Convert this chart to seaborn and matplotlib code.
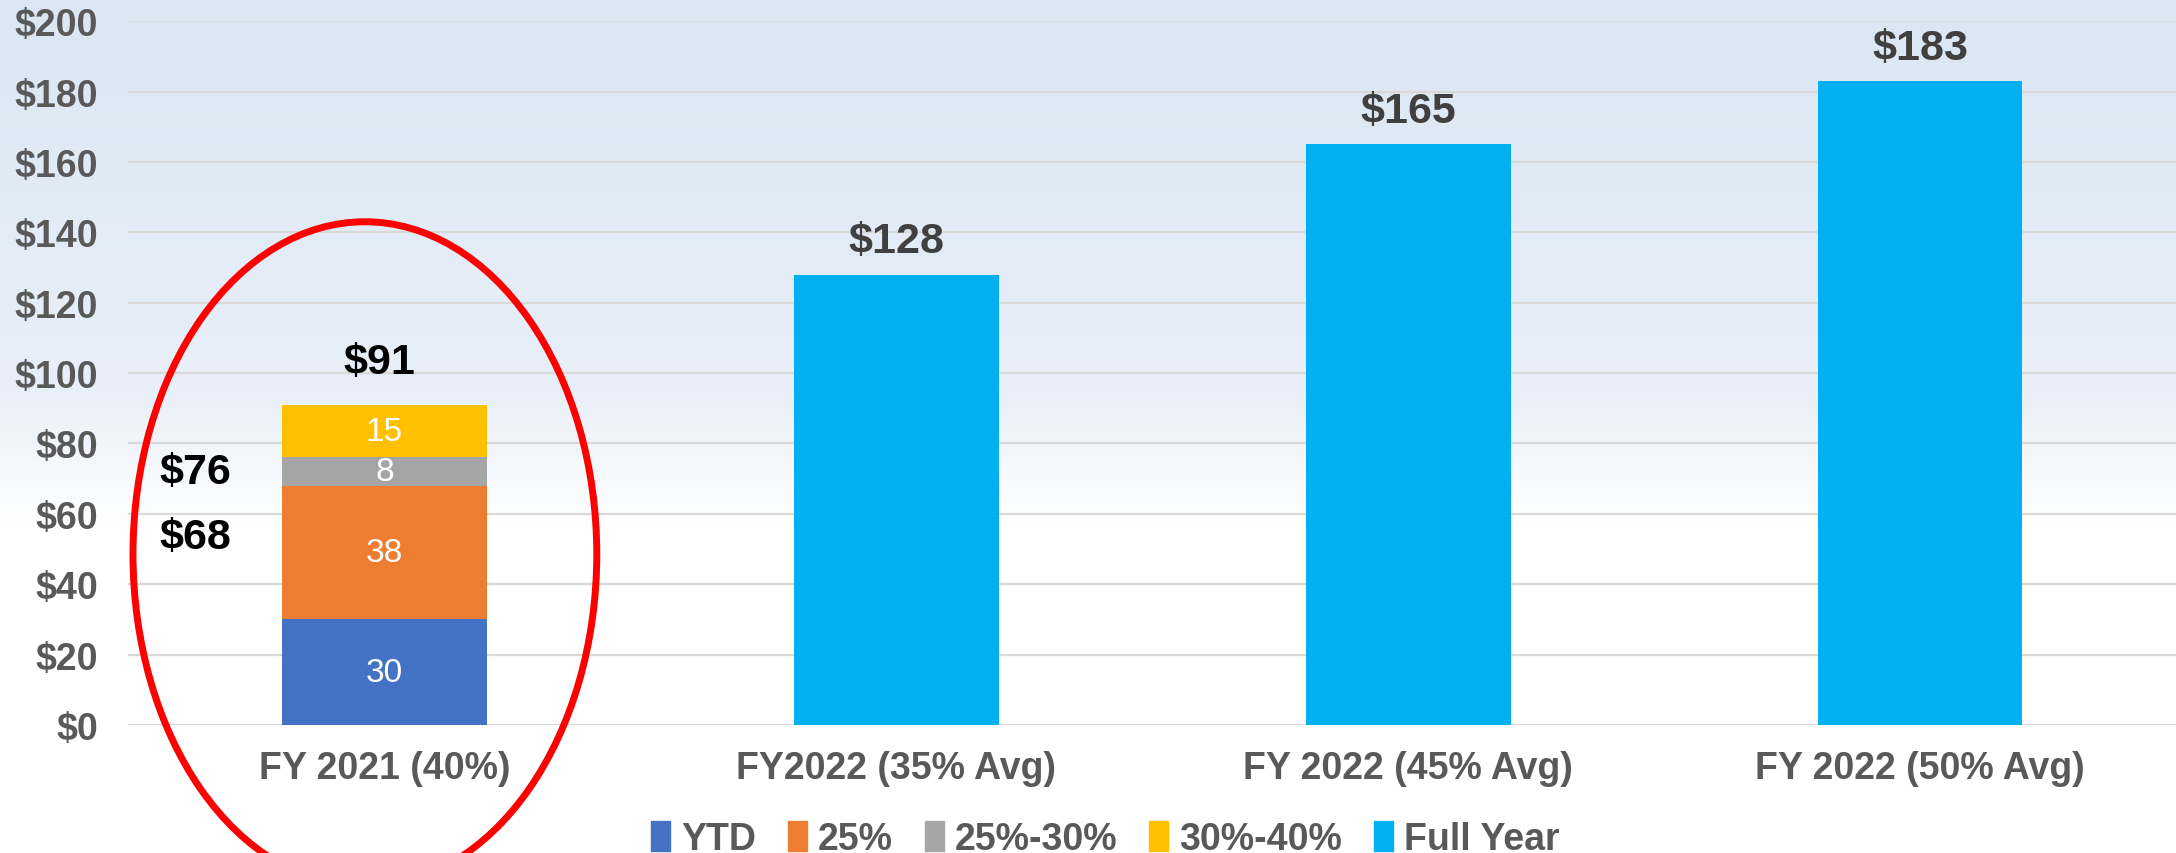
import numpy as np
import pandas as pd
import matplotlib

matplotlib.use('Agg')
import matplotlib.pyplot as plt
import seaborn as sns
from matplotlib.patches import Ellipse, Patch
from matplotlib.colors import LinearSegmentedColormap

# data
categories = ['FY 2021 (40%)', 'FY2022 (35% Avg)', 'FY 2022 (45% Avg)', 'FY 2022 (50% Avg)']
segments = ['YTD', '25%', '25%-30%', '30%-40%']
segment_values = [30, 38, 8, 15]          # stacked pieces of FY 2021
full_year_cats = categories[1:]
full_year_values = [128, 165, 183]
side_labels = [68, 76]                     # running totals shown left of the stack
colors = ['#4472C4', '#ED7D31', '#A5A5A5', '#FFC000']
full_year_color = '#00B0F0'

sns.set_style('white')
plt.rcParams['font.family'] = ['Liberation Sans', 'DejaVu Sans']

fig = plt.figure(figsize=(21.76, 8.54), dpi=100)

# soft blue background gradient
bg = fig.add_axes([0, 0, 1, 1], zorder=-1)
cmap = LinearSegmentedColormap.from_list(
    'bg', [(0.0, '#dae7f3'), (0.45, '#e8eff9'), (0.62, '#ffffff'), (1.0, '#ffffff')])
bg.imshow(np.linspace(0, 1, 256).reshape(-1, 1), aspect='auto', cmap=cmap,
          extent=[0, 1, 0, 1], origin='upper')
bg.axis('off')

ax = fig.add_axes([0.059, 0.150, 0.941, 0.824])
ax.set_facecolor('none')

# stacked bar: draw cumulative totals from top down so each layer covers the one before
cum = np.cumsum(segment_values)
for i in range(len(segments) - 1, -1, -1):
    df = pd.DataFrame({'cat': [categories[0]], 'val': [cum[i]]})
    sns.barplot(data=df, x='cat', y='val', order=categories, color=colors[i],
                width=0.4, saturation=1, linewidth=0, ax=ax, zorder=3)

df_full = pd.DataFrame({'cat': full_year_cats, 'val': full_year_values})
sns.barplot(data=df_full, x='cat', y='val', order=categories, color=full_year_color,
            width=0.4, saturation=1, linewidth=0, ax=ax, zorder=3)

# segment labels
bottoms = np.concatenate([[0], cum[:-1]])
for b, v in zip(bottoms, segment_values):
    ax.text(0, b + v / 2, f'{v}', ha='center', va='center', color='white',
            fontsize=24, zorder=4)

# totals
ax.text(-0.01, cum[-1] + 12, f'${cum[-1]}', ha='center', va='center', color='black',
        fontsize=31, fontweight='bold')
ax.text(-0.37, 72, f'${side_labels[1]}', ha='center', va='center', color='black',
        fontsize=31, fontweight='bold')
ax.text(-0.37, 53.5, f'${side_labels[0]}', ha='center', va='center', color='black',
        fontsize=31, fontweight='bold')
for i, v in enumerate(full_year_values):
    ax.text(i + 1, v + 9.5, f'${v}', ha='center', va='center', color='#404040',
            fontsize=31, fontweight='bold')

# red ellipse around FY 2021
ax.add_patch(Ellipse((-0.038, 48.5), 0.906, 189, fill=False, edgecolor='red',
                     linewidth=5, clip_on=False, zorder=5))

ax.set_ylim(0, 200)
ax.set_xlim(-0.5, 3.5)
ax.set_yticks(range(0, 201, 20))
ax.set_yticklabels([f'${v}' for v in range(0, 201, 20)])
ax.yaxis.grid(True, color='#d9d9d9', linewidth=1.6, zorder=0)
ax.set_axisbelow(True)
ax.set_xlabel('')
ax.set_ylabel('')
for s in ax.spines.values():
    s.set_visible(False)
ax.tick_params(axis='both', length=0, labelsize=27, labelcolor='#595959')
ax.tick_params(axis='x', pad=18)
ax.tick_params(axis='y', pad=22)
for t in ax.get_xticklabels() + ax.get_yticklabels():
    t.set_fontweight('bold')

handles = [Patch(color=c, label=l) for c, l in zip(colors + [full_year_color],
                                                    segments + ['Full Year'])]
leg = fig.legend(handles=handles, loc='center', bbox_to_anchor=(0.508, 0.016), ncol=5,
                 frameon=False, handlelength=0.5, handleheight=0.85, handletextpad=0.3,
                 columnspacing=0.85, prop={'size': 27, 'weight': 'bold'})
for t in leg.get_texts():
    t.set_color('#595959')

fig.savefig('out.png', dpi=100)
plt.close(fig)
